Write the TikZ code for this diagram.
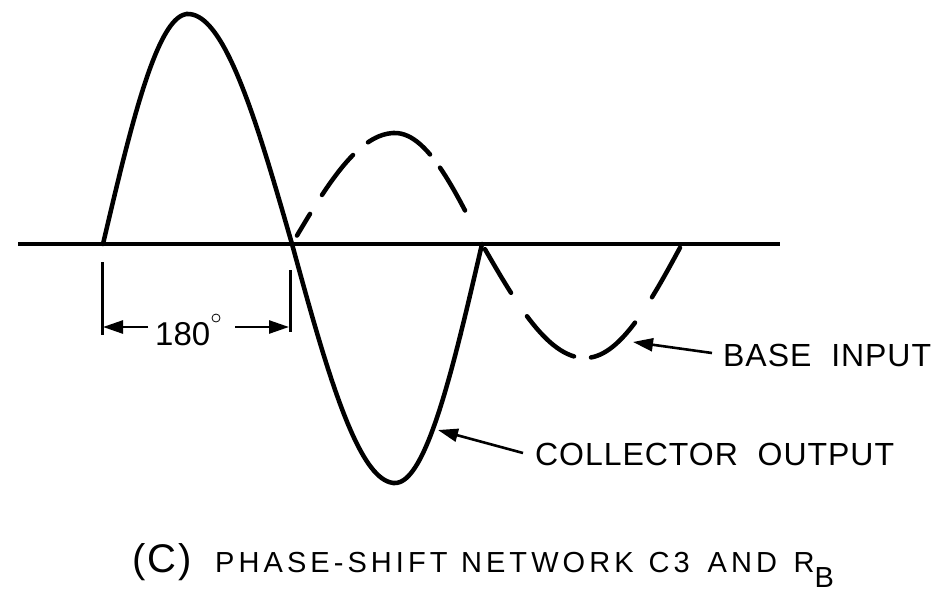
\documentclass[tikz,border=0pt]{standalone}
\usepackage{fontspec}
\setmainfont{Liberation Sans}
\newfontfamily\capfont[LetterSpace=14]{Liberation Sans}
\newfontfamily\lblfont[LetterSpace=3]{Liberation Sans}
\newfontfamily\parfont[LetterSpace=5]{Liberation Sans}
\usetikzlibrary{arrows.meta}
\begin{document}
\begin{tikzpicture}[x=1pt,y=-1pt,
  wave/.style={line width=4.5pt, line cap=round},
  axisline/.style={line width=4pt},
  tickline/.style={line width=3pt},
  pointer/.style={line width=2.6pt, -{Triangle[length=20pt,width=13pt]}},
  dimarrow/.style={line width=2.6pt, -{Triangle[length=20pt,width=13pt]}},
  lbl/.style={anchor=west, font=\lblfont\fontsize{32}{34}\selectfont, inner sep=0pt},
  captext/.style={anchor=base west, inner sep=0pt}]
\useasboundingbox (0,0) rectangle (942,611);
% axis
\draw[axisline] (18,244) -- (780,244);
% solid collector output
\draw[wave] plot[domain=103:188, samples=40] (\x,{244-230*sin(90*(\x-103)/85)})
  -- plot[domain=188:292, samples=40] (\x,{244-230*sin(90+90*(\x-188)/104)})
  -- plot[domain=292:395, samples=40] (\x,{244+239*sin(90*(\x-292)/103)})
  -- plot[domain=395:482, samples=40] (\x,{244+239*sin(90+90*(\x-395)/87)});
% dashed base input
\draw[wave] plot[domain=297:310, samples=8] (\x,{244-111*sin(90*(\x-292)/103)});
\draw[wave] plot[domain=322:353, samples=12] (\x,{244-111*sin(90*(\x-292)/103)});
\draw[wave] plot[domain=368:395, samples=12] (\x,{244-111*sin(90*(\x-292)/103)})
  -- plot[domain=395:430, samples=12] (\x,{244-111*sin(90+90*(\x-395)/87)});
\draw[wave] plot[domain=440:465, samples=10] (\x,{244-111*sin(90+90*(\x-395)/87)});
\draw[wave] plot[domain=485:511, samples=10] (\x,{244+114*sin(90*(\x-482)/103)});
\draw[wave] plot[domain=527:574, samples=15] (\x,{244+114*sin(90*(\x-482)/103)});
\draw[wave] plot[domain=591:635, samples=15] (\x,{244+114*sin(90+90*(\x-585)/97)});
\draw[wave] plot[domain=652:680, samples=10] (\x,{244+114*sin(90+90*(\x-585)/97)});
% 180 degree dimension
\draw[tickline] (102,262) -- (102,335);
\draw[tickline] (290,270) -- (290,332);
\node[captext, font=\fontsize{33}{35}\selectfont] (t180) at (155,345) {180};
\node[circle, draw, line width=0.8pt, inner sep=0pt, minimum size=8pt] (deg) at (216,318) {};
\coordinate (ltail) at (148,327);
\coordinate (ltip) at (103,327);
\coordinate (rtail) at (235,327);
\coordinate (rtip) at (289,327);
\draw[dimarrow] (ltail) -- (ltip);
\draw[dimarrow] (rtail) -- (rtip);
% labels
\node[lbl] (base) at (723,355) {BASE\hspace{0.62em}INPUT};
\node[lbl] (coll) at (535,454) {COLLECTOR\hspace{0.62em}OUTPUT};
\coordinate (btip) at (633,342);
\coordinate (ctip) at (438,430);
\draw[pointer] (base.west) ++(-11,-2) -- (btip);
\draw[pointer] (coll.west) ++(-12,-1) -- (ctip);
% caption
\node[captext, font=\parfont\fontsize{40}{42}\selectfont] (capc) at (132,572) {(C)};
\node[captext, font=\capfont\fontsize{29}{31}\selectfont] (capt) at (215,572)
  {PHASE-SHIFT\hspace{0.05em} NETWORK\hspace{0.1em} C3\hspace{0.2em} AND\hspace{0.15em} R\raisebox{-15pt}{B}};
\end{tikzpicture}
\end{document}
